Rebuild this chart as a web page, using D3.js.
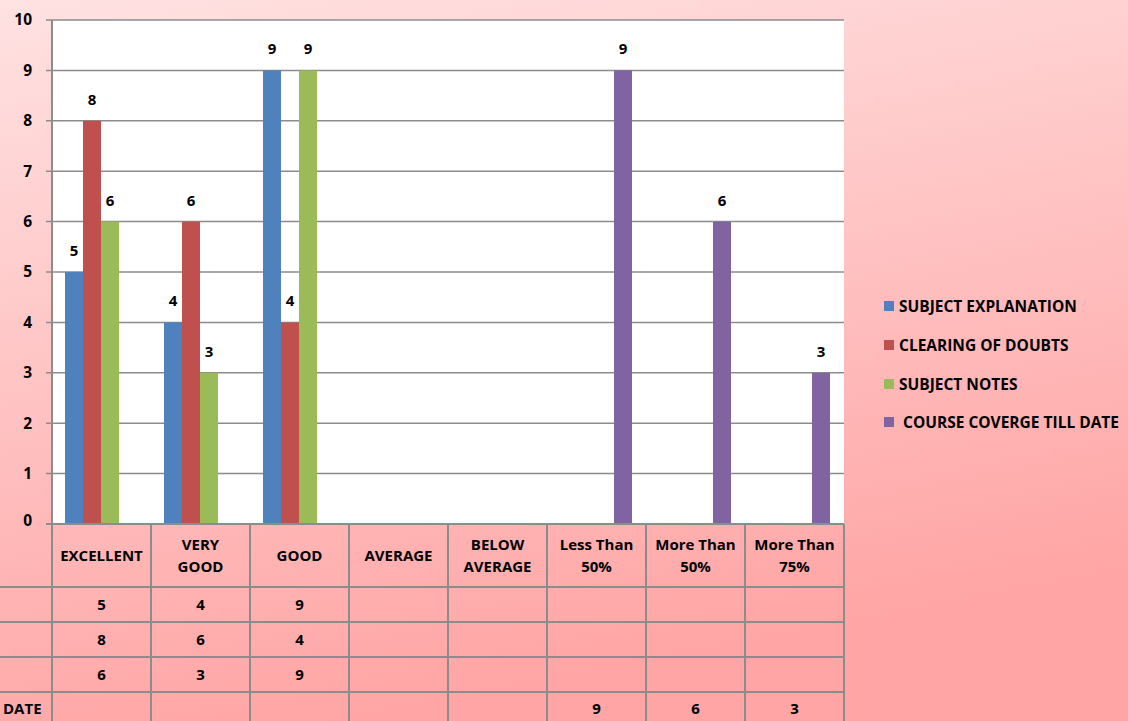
<!DOCTYPE html>
<html><head><meta charset="utf-8">
<script src="https://cdn.jsdelivr.net/npm/d3@7"></script>
<style>html,body{margin:0;padding:0;overflow:hidden;}text{font-family:"Open Sans",Lato,sans-serif;font-weight:bold;fill:#000;}</style>
</head><body>
<svg id="c" width="1128" height="721"></svg>
<script>
const categories = [["EXCELLENT"],["VERY","GOOD"],["GOOD"],["AVERAGE"],["BELOW","AVERAGE"],["Less Than","50%"],["More Than","50%"],["More Than","75%"]];
const seriesNames = ["SUBJECT EXPLANATION","CLEARING OF DOUBTS","SUBJECT NOTES","COURSE COVERGE TILL DATE"];
const seriesColors = ["#4f81bd","#c0504d","#9bbb59","#8064a2"];
const subjectExplanation = [5,4,9,null,null,null,null,null];
const clearingOfDoubts = [8,6,4,null,null,null,null,null];
const subjectNotes = [6,3,9,null,null,null,null,null];
const courseCoverage = [null,null,null,null,null,9,6,3];
const tableRowLabels = ["","","","DATE"];
const yTicks = [0,1,2,3,4,5,6,7,8,9,10];

const series = [subjectExplanation, clearingOfDoubts, subjectNotes, courseCoverage];
const svg = d3.select("#c");
const W=1128,H=721;
const defs = svg.append("defs");
const g0 = defs.append("linearGradient").attr("id","bg").attr("x1","0").attr("y1","0").attr("x2","0.3").attr("y2","1");
g0.append("stop").attr("offset","0").attr("stop-color","#ffe2e2");
g0.append("stop").attr("offset","1").attr("stop-color","#ffa5a5");
svg.append("rect").attr("width",W).attr("height",H).attr("fill","url(#bg)");

const L=52,R=844,T=20,B=524;
const x = d3.scaleBand().domain(d3.range(categories.length)).range([L,R]);
const y = d3.scaleLinear().domain([0,10]).range([B,T]);
const xs = d3.scaleBand().domain(d3.range(4)).range([13,x.bandwidth()-14]);

svg.append("rect").attr("x",L).attr("y",T).attr("width",R-L).attr("height",B-T).attr("fill","#fff");
const grid="#8c8c8c";
svg.append("g").selectAll("line").data(yTicks.filter(d=>d>0)).join("line")
  .attr("x1",L-6).attr("x2",R).attr("y1",d=>y(d)).attr("y2",d=>y(d)).attr("stroke",grid).attr("stroke-width",1.5);
svg.append("g").selectAll("text").data(yTicks).join("text")
  .attr("x",32).attr("y",d=>y(d)).attr("dy",d=>d===0?"0.1em":"0.35em").attr("text-anchor","end").attr("font-size",15.5).text(d=>d);

// bars
series.forEach((s,si)=>{
  const gg = svg.append("g");
  gg.selectAll("rect").data(s.map((v,i)=>({v,i})).filter(d=>d.v!=null)).join("rect")
    .attr("x",d=>x(d.i)+xs(si)).attr("width",xs.bandwidth())
    .attr("y",d=>y(d.v)).attr("height",d=>B-y(d.v)).attr("fill",seriesColors[si]);
  gg.selectAll("text").data(s.map((v,i)=>({v,i})).filter(d=>d.v!=null)).join("text")
    .attr("x",d=>x(d.i)+xs(si)+xs.bandwidth()/2).attr("y",d=>y(d.v)-16).attr("text-anchor","middle").attr("font-size",15).text(d=>d.v);
});

// table
const rowY=[B,587,622,657,692,727];
const tg = svg.append("g");
rowY.slice(1).forEach(yy=>tg.append("line").attr("x1",0).attr("x2",R).attr("y1",yy).attr("y2",yy).attr("stroke",grid).attr("stroke-width",2));
tg.append("line").attr("x1",L-6).attr("x2",R).attr("y1",B).attr("y2",B).attr("stroke",grid).attr("stroke-width",2);
d3.range(categories.length+1).forEach(i=>{
  const xx = i<categories.length? x(i): R;
  tg.append("line").attr("x1",xx).attr("x2",xx).attr("y1",i===0?T:B).attr("y2",H).attr("stroke",grid).attr("stroke-width",2);
});
categories.forEach((c,i)=>{
  const t=tg.append("text").attr("x",x(i)+x.bandwidth()/2).attr("text-anchor","middle").attr("font-size",15);
  const cy=(B+587)/2;
  c.forEach((ln,k)=>t.append("tspan").attr("x",x(i)+x.bandwidth()/2).attr("y",cy+5+(k-(c.length-1)/2)*22).text(ln));
});
series.forEach((s,si)=>{
  const cy=(rowY[si+1]+rowY[si+2])/2 + (si===3?-1:0);
  tableRowLabels[si] && tg.append("text").attr("x",3).attr("y",cy+5).attr("font-size",15).text(tableRowLabels[si]);
  s.forEach((v,i)=>{ if(v!=null) tg.append("text").attr("x",x(i)+x.bandwidth()/2).attr("y",cy+5).attr("text-anchor","middle").attr("font-size",15).text(v); });
});
svg.append("line").attr("x1",L).attr("x2",L).attr("y1",T).attr("y2",B).attr("stroke",grid).attr("stroke-width",2);

// legend
const lg=svg.append("g");
const ly=[306,345,384,422];
seriesNames.forEach((n,i)=>{
  lg.append("rect").attr("x",884).attr("y",ly[i]-5).attr("width",10).attr("height",10).attr("fill",seriesColors[i]);
  lg.append("text").attr("x",i===3?903:899).attr("y",ly[i]+5.5).attr("font-size",15.5).text(n);
});
</script></body></html>
